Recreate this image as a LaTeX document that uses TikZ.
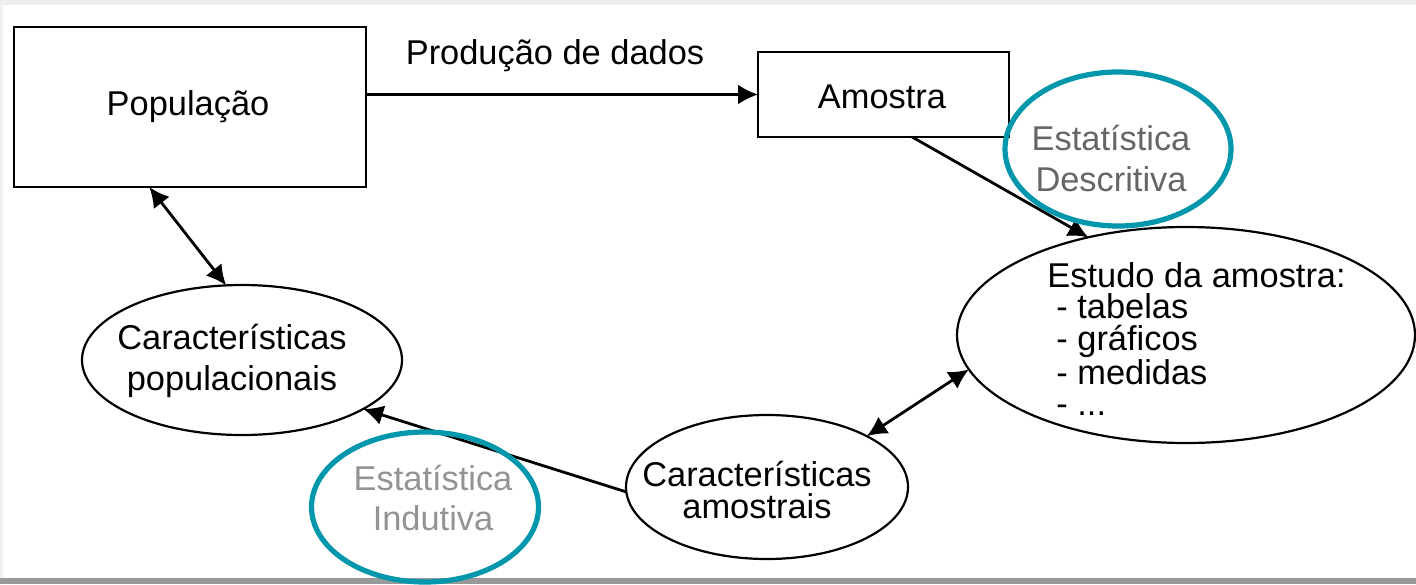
\documentclass[tikz,border=0pt]{standalone}
\usepackage{fontspec}
\setmainfont{Liberation Sans}
\usetikzlibrary{arrows.meta,shapes.geometric}
\definecolor{tealc}{RGB}{0,150,172}
\definecolor{grayt}{RGB}{120,120,120}
\begin{document}
\begin{tikzpicture}[x=0.5pt,y=-0.5pt,
  txt/.style={font=\fontsize{17.2}{20}\selectfont, inner sep=0pt, align=center},
  box/.style={draw, line width=1.4pt, minimum width=#1, inner sep=0pt, outer sep=0pt},
  ell/.style={draw, ellipse, line width=1.1pt, inner sep=0pt, outer sep=0pt},
  hl/.style={draw=tealc, ellipse, line width=2.6pt, inner sep=0pt, outer sep=0pt},
  conn/.style={line width=1.4pt},
  tip/.style={-{Latex[length=10pt,width=10pt]}},
  dtip/.style={{Latex[length=10pt,width=10pt]}-{Latex[length=10pt,width=10pt]}}
]
\useasboundingbox (0,0) rectangle (1416,584);
\fill[white] (0,0) rectangle (1416,584);
% screenshot edges
\fill[black!7] (0,0) rectangle (1416,5);
\fill[black!40] (0,578) rectangle (1416,584);
\fill[black!5] (0,5) rectangle (3,578);

% boxes
\node[box=176pt, minimum height=80pt] (pop) at (190,107) {};
\node[txt] (poptxt) at (188,107) {População};
\node[box=125.5pt, minimum height=42.5pt] (amo) at (883.5,94.5) {};
\node[txt] (amotxt) at (882,97) {Amostra};

% ellipses
\node[ell, minimum width=160pt, minimum height=75pt] (cpop) at (242,360) {};
\node[txt, font=\fontsize{17.2}{20.5}\selectfont] (cpoptxt) at (232,361) {Características\\populacionais};
\node[ell, minimum width=141pt, minimum height=72pt] (camo) at (767,487) {};
\node[txt, font=\fontsize{17.2}{16}\selectfont] (camotxt) at (757,490) {Características\\amostrais};
\node[ell, minimum width=229pt, minimum height=108pt] (est) at (1186,335) {};
\node[txt, align=left, anchor=west, font=\fontsize{17.2}{15.8}\selectfont] (esttxt) at (1047,339)
  {Estudo da amostra:\\\hspace{4.5pt}- tabelas\\\hspace{4.5pt}- gráficos\\\hspace{4.5pt}- medidas\\\hspace{4.5pt}- ...};

% label
\node[txt] (prod) at (555,56) {Produção de dados};

% connectors
\draw[conn, tip] (pop.east |- amo.west) -- (amo.west);
\draw[conn, tip] (amo.-56) -- (est.135.6);
\draw[conn, dtip] (pop.-117) -- (cpop.102);
\draw[conn, tip] (camo.182.5) -- (cpop.-22.6);
\draw[conn, dtip] (camo.27.9) -- (est.189.2);

% highlighted annotations
\node[txt, text=grayt!85!black, font=\fontsize{17.2}{20.5}\selectfont] (desc) at (1111,158) {Estatística\\Descritiva};
\node[hl, minimum width=113pt, minimum height=77pt] (descc) at (1118,149) {};
\node[txt, text=grayt!80, font=\fontsize{17.2}{20}\selectfont] (ind) at (433,498) {Estatística\\Indutiva};
\node[hl, minimum width=113.5pt, minimum height=75pt] (indc) at (425,507) {};
\end{tikzpicture}
\end{document}
